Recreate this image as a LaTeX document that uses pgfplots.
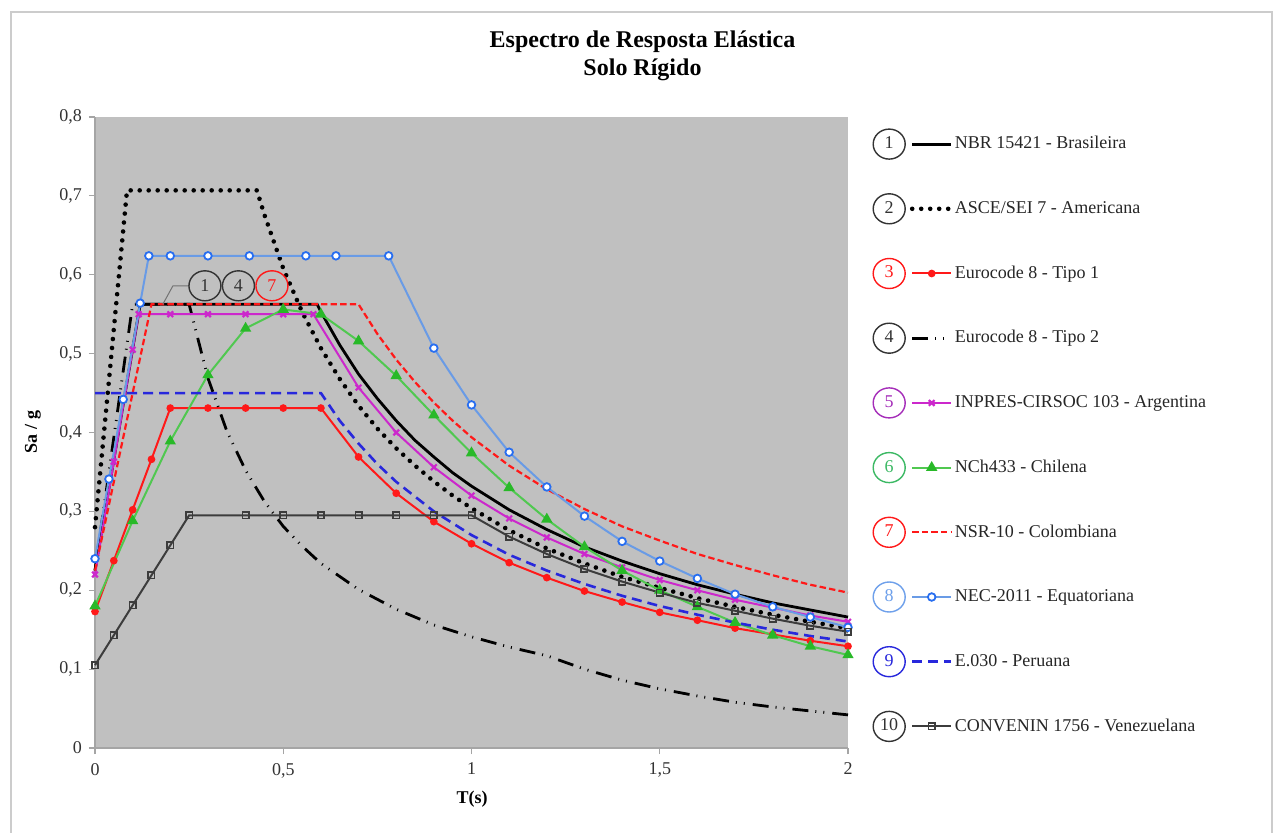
\documentclass[border=0pt]{standalone}
\usepackage{fontspec}
\setmainfont{Liberation Serif}
\usepackage{pgfplots}
\pgfplotsset{compat=1.18}
\usetikzlibrary{shapes.geometric}

\definecolor{plotbg}{RGB}{192,192,192}
\definecolor{axgray}{RGB}{165,165,165}
\definecolor{eured}{RGB}{255,25,25}
\definecolor{inmag}{RGB}{204,40,204}
\definecolor{chgreen}{RGB}{80,200,80}
\definecolor{chmark}{RGB}{40,185,40}
\definecolor{necblue}{RGB}{105,155,230}
\definecolor{necmark}{RGB}{40,110,240}
\definecolor{peblue}{RGB}{40,40,220}
\definecolor{vegray}{RGB}{60,60,60}
\definecolor{circ5}{RGB}{165,45,185}
\definecolor{circ6}{RGB}{60,185,100}
\definecolor{circ8}{RGB}{110,160,235}

\pgfplotsset{
  cleg/.style 2 args={legend image code/.code={%
     \node[solid, anchor=center, draw=#1, text=#1, fill=white, ellipse, minimum width=16pt, minimum height=15pt, inner sep=0pt, line width=0.7pt, font=\fontsize{9}{10}\selectfont] at (-11.5pt,0pt) {#2};
     \draw[mark repeat=2,mark phase=2,##1] plot coordinates {(0pt,0pt) (9.75pt,0pt) (19.5pt,0pt)};
  }}
}

\begin{document}
\begin{tikzpicture}
\useasboundingbox (0pt,0pt) rectangle (637pt,416pt);
\fill[white] (0pt,0pt) rectangle (637pt,416pt);
\draw[gray!40, line width=1pt] (5.5pt,-5pt) -- (5.5pt,410pt) -- (636pt,410pt) -- (636pt,-5pt);
\node[font=\fontsize{12}{14}\selectfont\bfseries, align=center] at (321.25pt,388pt) {Espectro de Resposta Elástica\\Solo Rígido};
\node[font=\fontsize{9}{10}\selectfont\bfseries] at (236pt,16.5pt) {T(s)};
\node[font=\fontsize{9}{10}\selectfont\bfseries, rotate=90] at (16.5pt,200pt) {Sa / g};

\begin{axis}[
  at={(47.5pt,42pt)}, anchor=south west, scale only axis,
  width=376.5pt, height=315.5pt,
  xmin=0, xmax=2, ymin=0, ymax=0.8, clip=false,
  axis background/.style={fill=plotbg},
  axis lines*=left, axis line style={axgray, line width=0.6pt},
  tick align=outside, major tick length=3pt, tick style={axgray, line width=0.6pt},
  xtick={0,0.5,1,1.5,2}, ytick={0,0.1,0.2,0.3,0.4,0.5,0.6,0.7,0.8},
  /pgf/number format/use comma, /pgf/number format/assume math mode=true,
  ticklabel style={font=\fontsize{9}{10}\selectfont, text=black!80},
  xticklabel style={yshift=-1pt},
  legend cell align=left,
  legend style={at={(1.0320,0.9826)}, anchor=north west, draw=none, fill=none,
    inner sep=0pt, row sep=16.65pt, column sep=0pt,
    font=\fontsize{9}{10}\selectfont, nodes={inner sep=0.7pt, text=black!85}},
]
% 1 NBR 15421
\addplot[black, line width=1.4pt, cleg={black!80}{1}] coordinates {
(0,0.225)(0.12,0.5625)(0.59,0.5625)(0.6,0.553)(0.65,0.511)(0.7,0.474)(0.75,0.443)(0.8,0.415)(0.85,0.390)(0.9,0.369)(0.95,0.349)(1.0,0.332)(1.1,0.302)(1.2,0.277)(1.3,0.255)(1.4,0.237)(1.5,0.221)(1.6,0.207)(1.7,0.195)(1.8,0.184)(1.9,0.175)(2.0,0.166)};
\addlegendentry{NBR 15421 - Brasileira}
% 2 ASCE
\addplot[black, line width=2.3pt, line cap=round, dash pattern=on 0pt off 4.5pt, cleg={black!80}{2}] coordinates {
(0,0.28)(0.085,0.707)(0.43,0.707)(0.45,0.676)(0.5,0.608)(0.55,0.553)(0.6,0.507)(0.65,0.468)(0.7,0.434)(0.75,0.405)(0.8,0.380)(0.85,0.358)(0.9,0.338)(0.95,0.320)(1.0,0.304)(1.1,0.276)(1.2,0.253)(1.3,0.234)(1.4,0.217)(1.5,0.203)(1.6,0.190)(1.7,0.179)(1.8,0.169)(1.9,0.160)(2.0,0.152)};
\addlegendentry{ASCE/SEI 7 - Americana}
% 3 Eurocode 8 Tipo 1
\addplot[eured, line width=1pt, mark=*, mark size=1.4pt, mark options={solid, fill=eured}, cleg={eured}{3}] coordinates {
(0,0.173)(0.05,0.2375)(0.1,0.302)(0.15,0.366)(0.2,0.431)(0.3,0.431)(0.4,0.431)(0.5,0.431)(0.6,0.431)(0.7,0.369)(0.8,0.323)(0.9,0.287)(1.0,0.259)(1.1,0.235)(1.2,0.216)(1.3,0.199)(1.4,0.185)(1.5,0.172)(1.6,0.162)(1.7,0.152)(1.8,0.144)(1.9,0.136)(2.0,0.129)};
\addlegendentry{Eurocode 8 - Tipo 1}
% 4 Eurocode 8 Tipo 2
\addplot[black, line width=1.4pt, dash pattern=on 8pt off 3.5pt on 0.5pt off 3.5pt on 0.5pt off 4pt, cleg={black!80}{4}] coordinates {
(0,0.225)(0.1,0.5625)(0.25,0.5625)(0.3,0.469)(0.35,0.402)(0.4,0.352)(0.45,0.3125)(0.5,0.281)(0.55,0.256)(0.6,0.234)(0.7,0.201)(0.8,0.176)(0.9,0.156)(1.0,0.141)(1.1,0.128)(1.2,0.117)(1.3,0.100)(1.4,0.086)(1.5,0.075)(1.6,0.066)(1.7,0.058)(1.8,0.052)(1.9,0.047)(2.0,0.042)};
\addlegendentry{Eurocode 8 - Tipo 2}
% 5 INPRES-CIRSOC 103
\addplot[inmag, line width=1pt, mark=x, mark size=2pt, mark options={solid, line width=1.1pt}, cleg={circ5}{5}] coordinates {
(0,0.22)(0.05,0.363)(0.1,0.505)(0.116,0.55)(0.2,0.55)(0.3,0.55)(0.4,0.55)(0.5,0.55)(0.58,0.55)(0.7,0.457)(0.8,0.40)(0.9,0.356)(1.0,0.32)(1.1,0.291)(1.2,0.267)(1.3,0.246)(1.4,0.229)(1.5,0.213)(1.6,0.2)(1.7,0.188)(1.8,0.178)(1.9,0.168)(2.0,0.16)};
\addlegendentry{INPRES-CIRSOC 103 - Argentina}
% 6 NCh433
\addplot[chgreen, line width=1pt, mark=triangle*, mark size=2.3pt, mark options={solid, fill=chmark, draw=chmark}, cleg={circ6}{6}] coordinates {
(0,0.18)(0.1,0.288)(0.2,0.389)(0.3,0.473)(0.4,0.532)(0.5,0.556)(0.6,0.55)(0.7,0.516)(0.8,0.472)(0.9,0.422)(1.0,0.374)(1.1,0.33)(1.2,0.29)(1.3,0.255)(1.4,0.225)(1.5,0.2)(1.6,0.179)(1.7,0.159)(1.8,0.143)(1.9,0.129)(2.0,0.118)};
\addlegendentry{NCh433 - Chilena}
% 7 NSR-10
\addplot[eured, line width=1.1pt, dash pattern=on 3.2pt off 1.6pt, cleg={eured}{7}] coordinates {
(0,0.225)(0.15,0.5625)(0.70,0.5625)(0.75,0.525)(0.8,0.4925)(0.85,0.464)(0.9,0.438)(0.95,0.415)(1.0,0.394)(1.1,0.358)(1.2,0.328)(1.3,0.303)(1.4,0.281)(1.5,0.263)(1.6,0.246)(1.7,0.232)(1.8,0.219)(1.9,0.207)(2.0,0.197)};
\addlegendentry{NSR-10 - Colombiana}
% 8 NEC-2011
\addplot[necblue, line width=1pt, mark=*, mark size=1.9pt, mark options={solid, fill=white, draw=necmark, line width=0.9pt}, cleg={circ8}{8}] coordinates {
(0,0.24)(0.037,0.341)(0.075,0.442)(0.12,0.564)(0.143,0.624)(0.2,0.624)(0.3,0.624)(0.41,0.624)(0.56,0.624)(0.64,0.624)(0.78,0.624)(0.9,0.507)(1.0,0.435)(1.1,0.375)(1.2,0.331)(1.3,0.294)(1.4,0.262)(1.5,0.237)(1.6,0.215)(1.7,0.195)(1.8,0.179)(1.9,0.166)(2.0,0.153)};
\addlegendentry{NEC-2011 - Equatoriana}
% 9 E.030
\addplot[peblue, line width=1.3pt, dash pattern=on 5pt off 3pt, cleg={peblue}{9}] coordinates {
(0,0.45)(0.6,0.45)(0.65,0.415)(0.7,0.386)(0.75,0.36)(0.8,0.3375)(0.9,0.3)(1.0,0.27)(1.1,0.245)(1.2,0.225)(1.3,0.208)(1.4,0.193)(1.5,0.18)(1.6,0.169)(1.7,0.159)(1.8,0.15)(1.9,0.142)(2.0,0.135)};
\addlegendentry{E.030 - Peruana}
% 10 CONVENIN 1756
\addplot[vegray, line width=1pt, mark=square, mark size=1.6pt, mark options={solid, line width=0.8pt}, cleg={black!80}{10}] coordinates {
(0,0.105)(0.05,0.143)(0.1,0.181)(0.15,0.219)(0.2,0.257)(0.25,0.295)(0.4,0.295)(0.5,0.295)(0.6,0.295)(0.7,0.295)(0.8,0.295)(0.9,0.295)(1.0,0.295)(1.1,0.268)(1.2,0.246)(1.3,0.227)(1.4,0.211)(1.5,0.197)(1.6,0.184)(1.7,0.174)(1.8,0.164)(1.9,0.155)(2.0,0.1475)};
\addlegendentry{CONVENIN 1756 - Venezuelana}

% annotation 1 4 7
\draw[black!55, line width=0.5pt] (axis cs:0.18,0.5625) -- (axis cs:0.207,0.586) -- (axis cs:0.252,0.586);
\node[draw=black!80, text=black!80, ellipse, minimum width=16pt, minimum height=15pt, inner sep=0pt, line width=0.7pt, font=\fontsize{9}{10}\selectfont] at (axis cs:0.292,0.586) {1};
\node[draw=black!80, text=black!80, ellipse, minimum width=16pt, minimum height=15pt, inner sep=0pt, line width=0.7pt, font=\fontsize{9}{10}\selectfont] at (axis cs:0.381,0.586) {4};
\node[draw=eured, text=eured, ellipse, minimum width=16pt, minimum height=15pt, inner sep=0pt, line width=0.7pt, font=\fontsize{9}{10}\selectfont] at (axis cs:0.47,0.586) {7};
\end{axis}
\end{tikzpicture}
\end{document}
